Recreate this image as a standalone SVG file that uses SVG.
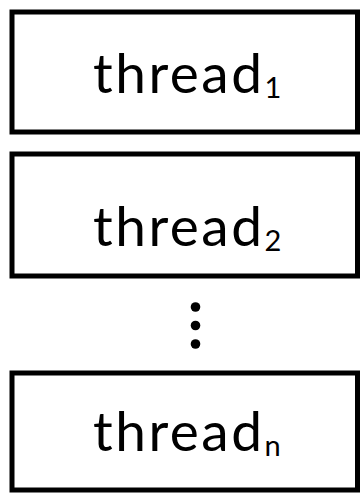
<svg xmlns="http://www.w3.org/2000/svg" width="362" height="495" viewBox="0 0 362 495">
  <style>
    .box { fill: #ffffff; stroke: #000000; stroke-width: 5; }
    .label { font-family: Lato, "Open Sans", "Liberation Sans", sans-serif; font-size: 55px; letter-spacing: 2.5px; fill: #000000; }
    .sub { font-size: 29px; letter-spacing: 0; }
    .dot { fill: #000000; }
  </style>
  <rect x="0" y="0" width="362" height="495" fill="#ffffff"/>

  <g id="thread1">
    <rect class="box" x="12" y="12" width="345.5" height="120"/>
    <text class="label" x="93" y="93">thread<tspan class="sub" dy="5">1</tspan></text>
  </g>

  <g id="thread2">
    <rect class="box" x="12" y="154" width="345.5" height="122"/>
    <text class="label" x="93" y="246">thread<tspan class="sub" dy="5">2</tspan></text>
  </g>

  <g id="ellipsis">
    <circle class="dot" cx="195.5" cy="307" r="4.8"/>
    <circle class="dot" cx="195.5" cy="325.5" r="4.8"/>
    <circle class="dot" cx="195.5" cy="344" r="4.8"/>
  </g>

  <g id="threadn">
    <rect class="box" x="12" y="373" width="345.5" height="117"/>
    <text class="label" x="93" y="451">thread<tspan class="sub" dy="5">n</tspan></text>
  </g>

  <g id="connectors"/>
</svg>
